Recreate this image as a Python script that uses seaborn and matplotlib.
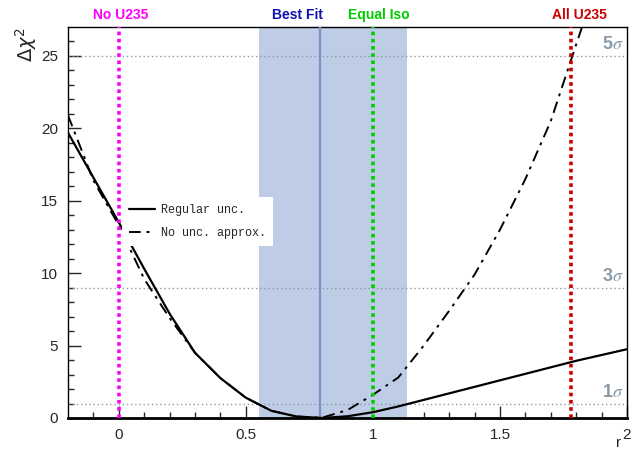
import matplotlib
matplotlib.use("Agg")
import matplotlib.pyplot as plt
import seaborn as sns
import pandas as pd

# scan points (r) and delta chi2 for the two treatments
r_values = [-0.2, -0.1, 0.0, 0.1, 0.2, 0.3, 0.4, 0.5, 0.6, 0.7, 0.8,
            0.9, 1.0, 1.1, 1.2, 1.3, 1.4, 1.5, 1.6, 1.7, 1.8, 1.9, 2.0]
chi2_regular = [19.7, 16.6, 13.5, 10.3, 7.2, 4.5, 2.75, 1.4, 0.5, 0.1, 0.0,
                0.12, 0.4, 0.8, 1.25, 1.7, 2.15, 2.6, 3.05, 3.5, 3.95, 4.35, 4.75]
chi2_nounc = [20.9, 16.4, 13.3, 9.6, 6.9, 4.5, 2.75, 1.4, 0.5, 0.1, 0.02,
              0.55, 1.6, 2.8, 5.0, 7.4, 9.9, 13.0, 16.5, 20.5, 25.8, 31.0, 37.0]

best_fit = 0.79
band_lo, band_hi = 0.553, 1.134

marker_pos = [0.0, best_fit, 1.0, 1.781]
marker_labels = ["No U235", "Best Fit", "Equal Iso", "All U235"]
marker_colors = ["#ff00ff", "#1010b0", "#00cc00", "#cc0000"]
# where the label text sits (data x) and its alignment
label_x = [0.008, 0.802, 1.024, 1.812]
label_ha = ["center", "right", "center", "center"]

sigma_levels = [1, 9, 25]
sigma_labels = [r"1$\sigma$", r"3$\sigma$", r"5$\sigma$"]

df = pd.DataFrame({"r": r_values, "regular": chi2_regular, "nounc": chi2_nounc})

sns.set_style("ticks")
plt.rcParams["font.family"] = ["Liberation Sans", "DejaVu Sans"]
plt.rcParams["mathtext.fontset"] = "stix"

fig = plt.figure(figsize=(6.44, 4.54), dpi=100)
ax = fig.add_axes([0.1056, 0.0793, 0.868, 0.8612])

# 1 sigma band around best fit
ax.axvspan(band_lo, band_hi, color="#bfcce6", zorder=1, lw=0)

for lvl in sigma_levels:
    ax.axhline(lvl, color="#8a99a8", ls=(0, (1, 2)), lw=1, zorder=2)

sns.lineplot(data=df, x="r", y="regular", ax=ax, color="black", lw=1.6,
             label="Regular unc.", zorder=4)
sns.lineplot(data=df, x="r", y="nounc", ax=ax, color="black", lw=1.4,
             linestyle=(0, (6, 3, 1.5, 3)), label="No unc. approx.", zorder=4)

# reference lines
for pos, lab, col, lx, ha in zip(marker_pos, marker_labels, marker_colors, label_x, label_ha):
    if lab == "Best Fit":
        ax.axvline(pos, color="#7893c6", lw=1.6, zorder=3)
    else:
        ax.axvline(pos, color=col, lw=2.6, ls=(0, (1, 1)), zorder=5)
    ax.text(lx, 1.012, lab, transform=ax.get_xaxis_transform(), ha=ha,
            va="bottom", color=col, fontsize=10, fontweight="bold")

for lvl, lab in zip(sigma_levels, sigma_labels):
    ax.text(1.985, lvl + 0.2, lab, ha="right", va="bottom", color="#8a99a8",
            fontsize=13, fontweight="bold", zorder=6)

ax.set_xlim(-0.2, 2.0)
ax.set_ylim(0, 27)
ax.set_xticks([0, 0.5, 1, 1.5, 2])
ax.set_xticklabels(["0", "0.5", "1", "1.5", "2"])
ax.set_xticks([x / 10 for x in range(-1, 20) if x % 5 != 0], minor=True)
ax.set_yticks([0, 5, 10, 15, 20, 25])
ax.set_yticks([y for y in range(1, 27) if y % 5 != 0], minor=True)
ax.tick_params(which="both", direction="in", top=False, right=False, labelsize=11)
ax.tick_params(which="major", length=9, width=1, pad=7)
ax.tick_params(which="minor", length=4.5, width=1)

for s in ax.spines.values():
    s.set_linewidth(1)
    s.set_color("black")
ax.spines["bottom"].set_linewidth(2)

ax.set_xlabel("r", fontsize=11, ha="right")
ax.xaxis.set_label_coords(0.99, -0.045)
ax.set_ylabel(r"$\Delta\chi^2$", fontsize=14, ha="right", math_fontfamily="dejavusans")
ax.yaxis.set_label_coords(-0.052, 1.0)

leg = ax.legend(loc="upper left", bbox_to_anchor=(0.097, 0.565), borderaxespad=0,
                frameon=True, fancybox=False, framealpha=1, edgecolor="white",
                handlelength=2.2, handletextpad=0.45, borderpad=0.6, labelspacing=0.9,
                prop={"family": "Liberation Mono", "size": 8.5})
leg.get_frame().set_linewidth(0)
leg.set_zorder(7)

fig.savefig("out.png", dpi=100)
